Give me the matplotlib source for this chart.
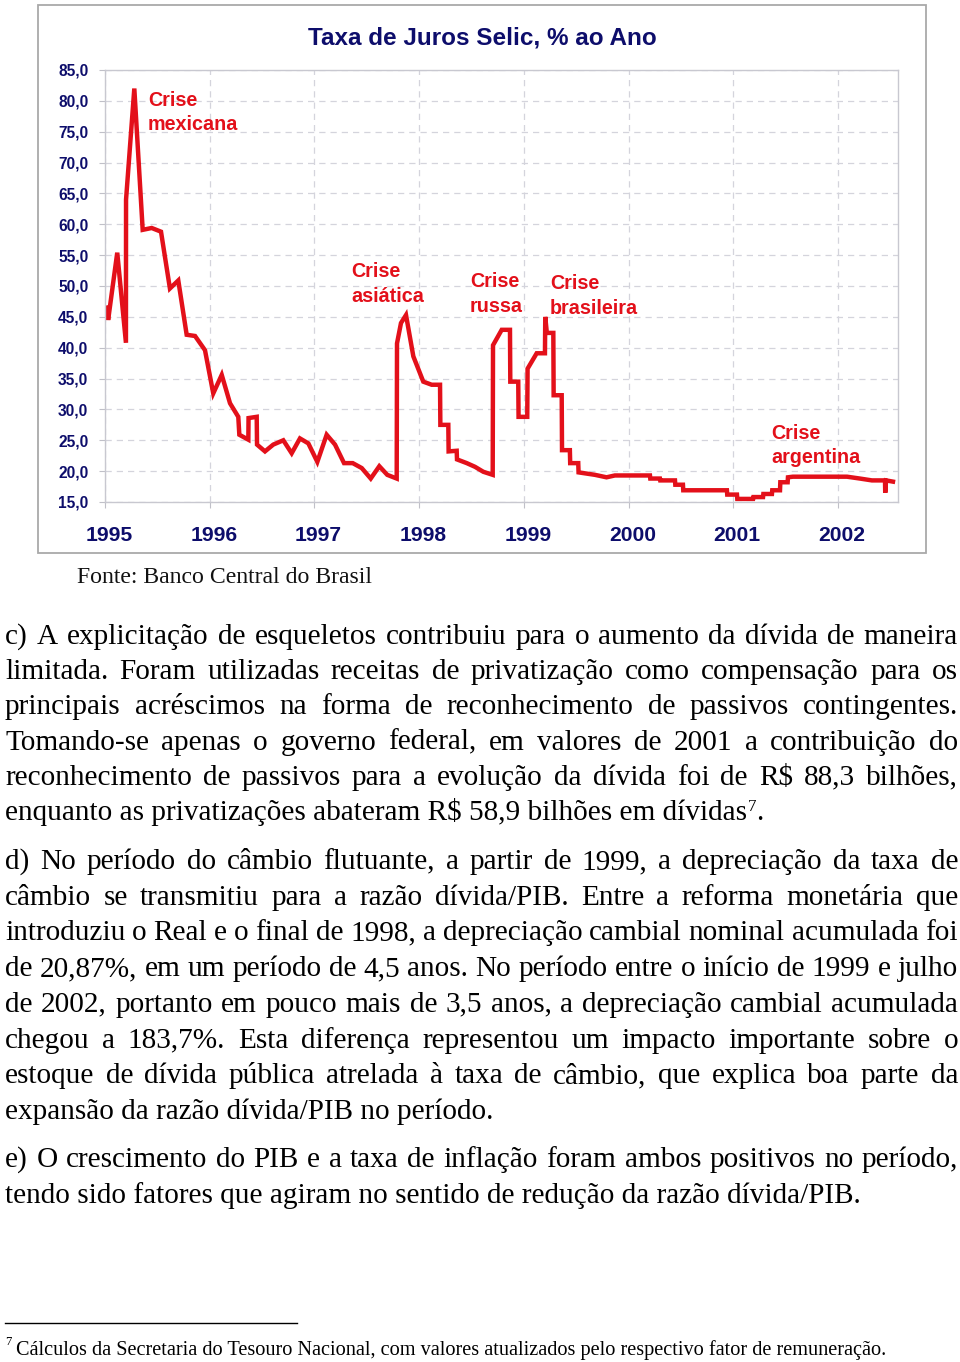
import matplotlib
matplotlib.use('Agg')
import matplotlib.pyplot as plt
from matplotlib.transforms import ScaledTranslation
from matplotlib.patches import Rectangle
from matplotlib.lines import Line2D

W, H = 960, 1362

# ---------------- data ----------------
selic_t = [1995.02, 1995.03, 1995.117, 1995.20, 1995.201, 1995.28, 1995.36, 1995.446,
           1995.535, 1995.62, 1995.70, 1995.78, 1995.86, 1995.955, 1996.034, 1996.115,
           1996.194, 1996.273, 1996.283, 1996.369, 1996.371, 1996.449, 1996.452, 1996.528,
           1996.607, 1996.703, 1996.783, 1996.862, 1996.942, 1997.028, 1997.117, 1997.197,
           1997.283, 1997.366, 1997.452, 1997.538, 1997.62, 1997.696, 1997.786, 1997.789,
           1997.827, 1997.875, 1997.945, 1998.04, 1998.12, 1998.20, 1998.203, 1998.279,
           1998.282, 1998.359, 1998.362, 1998.455, 1998.534, 1998.613, 1998.703, 1998.706,
           1998.789, 1998.868, 1998.871, 1998.947, 1998.95, 1999.033, 1999.036, 1999.123,
           1999.202, 1999.205, 1999.22, 1999.282, 1999.285, 1999.362, 1999.365, 1999.44,
           1999.443, 1999.52, 1999.523, 1999.68, 1999.79, 1999.87, 2000.205, 2000.208,
           2000.30, 2000.303, 2000.444, 2000.447, 2000.52, 2000.523, 2000.94, 2000.943,
           2001.036, 2001.039, 2001.19, 2001.193, 2001.285, 2001.288, 2001.37, 2001.373,
           2001.447, 2001.45, 2001.52, 2001.523, 2001.57, 2002.087, 2002.21, 2002.325,
           2002.45, 2002.452, 2002.46, 2002.526]
selic_v = [46.5, 44.5, 55.4, 40.8, 64.0, 82.0, 59.1, 59.4,
           58.8, 49.6, 50.9, 42.1, 41.9, 39.6, 32.6, 35.6,
           31.0, 28.8, 25.9, 25.1, 28.6, 28.8, 24.3, 23.2,
           24.3, 25.0, 22.9, 25.3, 24.5, 21.5, 25.9, 24.3,
           21.3, 21.3, 20.5, 18.8, 20.8, 19.4, 18.8, 40.7,
           44.0, 45.3, 38.6, 34.5, 34.0, 34.0, 27.5, 27.5,
           23.2, 23.3, 21.9, 21.3, 20.7, 19.9, 19.4, 40.4,
           42.9, 42.9, 34.5, 34.5, 28.8, 28.8, 36.6, 39.1,
           39.1, 45.0, 42.4, 42.4, 32.3, 32.3, 23.4, 23.4,
           21.3, 21.3, 19.8, 19.4, 19.0, 19.3, 19.3, 18.8,
           18.8, 18.5, 18.5, 17.8, 17.8, 16.9, 16.9, 16.2,
           16.2, 15.5, 15.5, 15.8, 15.8, 16.3, 16.3, 16.9,
           16.9, 18.2, 18.2, 19.0, 19.1, 19.1, 18.8, 18.5,
           18.5, 16.5, 18.5, 18.3]

year_ticks = [1995, 1996, 1997, 1998, 1999, 2000, 2001, 2002]
year_labels = ['1995', '1996', '1997', '1998', '1999', '2000', '2001', '2002']
y_ticks = [15, 20, 25, 30, 35, 40, 45, 50, 55, 60, 65, 70, 75, 80, 85]
y_labels = ['15,0', '20,0', '25,0', '30,0', '35,0', '40,0', '45,0', '50,0',
            '55,0', '60,0', '65,0', '70,0', '75,0', '80,0', '85,0']
crise_labels = ['Crise\nmexicana', 'Crise\nasiática', 'Crise\nrussa',
                'Crise\nbrasileira', 'Crise\nargentina']
chart_title = 'Taxa de Juros Selic, % ao Ano'
source_text = 'Fonte: Banco Central do Brasil'

para_c = ["c) A explicitação de esqueletos contribuiu para o aumento da dívida de maneira",
          "limitada. Foram utilizadas receitas de privatização como compensação para os",
          "principais acréscimos na forma de reconhecimento de passivos contingentes.",
          "Tomando-se apenas o governo federal, em valores de 2001 a contribuição do",
          "reconhecimento de passivos para a evolução da dívida foi de R$ 88,3 bilhões,",
          "enquanto as privatizações abateram R$ 58,9 bilhões em dívidas"]
para_d = ["d) No período do câmbio flutuante, a partir de 1999, a depreciação da taxa de",
          "câmbio se transmitiu para a razão dívida/PIB. Entre a reforma monetária que",
          "introduziu o Real e o final de 1998, a depreciação cambial nominal acumulada foi",
          "de 20,87%, em um período de 4,5 anos. No período entre o início de 1999 e julho",
          "de 2002, portanto em pouco mais de 3,5 anos, a depreciação cambial acumulada",
          "chegou a 183,7%. Esta diferença representou um impacto importante sobre o",
          "estoque de dívida pública atrelada à taxa de câmbio, que explica boa parte da",
          "expansão da razão dívida/PIB no período."]
para_e = ["e) O crescimento do PIB e a taxa de inflação foram ambos positivos no período,",
          "tendo sido fatores que agiram no sentido de redução da razão dívida/PIB."]
footnote_text = "Cálculos da Secretaria do Tesouro Nacional, com valores atualizados pelo respectivo fator de remuneração."

# ---------------- figure ----------------
NAVY = '#0d0d6b'
RED = '#e3101a'
fig = plt.figure(figsize=(W / 100, H / 100), dpi=100)
fig.patch.set_facecolor('white')
renderer = fig.canvas.get_renderer()


def fx(x):
    return x / W


def fy(y):
    return 1 - y / H


def measure(s, **kw):
    t = fig.text(0, 0, s, **kw)
    w = t.get_window_extent(renderer=renderer).width
    t.remove()
    return w


# outer chart box
fig.add_artist(Rectangle((fx(38), fy(553)), (926 - 38) / W, (553 - 5) / H,
                         transform=fig.transFigure, fill=False,
                         edgecolor='#a9a9a9', lw=1.3))

ax_l, ax_r, ax_t, ax_b = 105, 898, 70, 502
ax = fig.add_axes([fx(ax_l), fy(ax_b), (ax_r - ax_l) / W, (ax_b - ax_t) / H])
ax.plot(selic_t, selic_v, color=RED, lw=3.2, solid_joinstyle='miter')
ax.set_xlim(1995.0, 1995.0 + (ax_r - ax_l) / 104.7)
ax.set_ylim(15, 85)
ax.set_xticks(year_ticks)
ax.set_xticklabels(year_labels, fontsize=15.2, fontweight='bold', color=NAVY,
                   family='Liberation Sans')
ax.set_yticks(y_ticks)
ax.set_yticklabels(y_labels, fontsize=11.2, fontweight='bold', color=NAVY,
                   family='Liberation Sans')
ax.tick_params(axis='x', length=4, color='#c0c0c8', pad=13)
ax.tick_params(axis='y', length=4, color='#c0c0c8', pad=8)
for lab in ax.get_xticklabels():
    lab.set_transform(lab.get_transform() + ScaledTranslation(0.04, 0, fig.dpi_scale_trans))
ax.grid(True, color='#d4d4dc', lw=0.9, linestyle=(0, (5, 4)))
ax.set_axisbelow(True)
for s in ax.spines.values():
    s.set_color('#c8c8d0')
    s.set_linewidth(1.0)

# title
fig.text(fx(482), fy(45), chart_title, ha='center', va='baseline',
         fontsize=17.5, fontweight='bold', color=NAVY, family='Liberation Sans')

# crisis annotations (baseline of first line, pixel positions)
crise_xy = [(148, 106), (351, 277), (470, 287), (550, 289), (771, 439)]
for lab, (x, y) in zip(crise_labels, crise_xy):
    l1, l2 = lab.split('\n')
    fig.text(fx(x), fy(y), l1, ha='left', va='baseline', fontsize=14.2,
             fontweight='bold', color=RED, family='Liberation Sans')
    fig.text(fx(x), fy(y + 24.5), l2, ha='left', va='baseline', fontsize=14.2,
             fontweight='bold', color=RED, family='Liberation Sans')

# source
src_size = 15 * 297 / measure(source_text, family='Liberation Serif', size=15)
fig.text(fx(77), fy(583), source_text, ha='left', va='baseline',
         family='Liberation Serif', size=src_size, color='#111111')

# ---------------- body text ----------------
body_font = 'Liberation Serif'
body_size = 20 * 741 / measure(para_c[-1], family=body_font, size=20)
LEFT, RIGHT = 5, 958


def draw_line(line, y, justify):
    words = line.split(' ')
    if not justify:
        fig.text(fx(LEFT), fy(y), line, ha='left', va='baseline',
                 family=body_font, size=body_size, color='black')
        return LEFT + measure(line, family=body_font, size=body_size)
    widths = [measure(w, family=body_font, size=body_size) for w in words]
    gap = (RIGHT - LEFT - sum(widths)) / (len(words) - 1)
    x = LEFT
    for w, wd in zip(words, widths):
        fig.text(fx(x), fy(y), w, ha='left', va='baseline',
                 family=body_font, size=body_size, color='black')
        x += wd + gap
    return RIGHT


def draw_para(lines, y0, dy):
    end = None
    for i, line in enumerate(lines):
        end = draw_line(line, y0 + i * dy, i < len(lines) - 1)
    return end


c0, cdy = 644, 35.2
end_c = draw_para(para_c, c0, cdy)
y_last_c = c0 + 5 * cdy
fig.text(fx(end_c + 1), fy(y_last_c - 9), '7', ha='left', va='baseline',
         family=body_font, size=body_size * 0.58)
fig.text(fx(end_c + 1 + measure('7', family=body_font, size=body_size * 0.58)),
         fy(y_last_c), '.', ha='left', va='baseline', family=body_font, size=body_size)
draw_para(para_d, 869, 35.7)
draw_para(para_e, 1167, 35.7)

# footnote
fig.add_artist(Line2D([fx(5), fx(297)], [fy(1323), fy(1323)],
                      transform=fig.transFigure, color='black', lw=1.0))
fn_size = 15 * 874 / measure(footnote_text, family=body_font, size=15)
fig.text(fx(5), fy(1345), '7', ha='left', va='baseline', family=body_font,
         size=fn_size * 0.62)
fig.text(fx(16), fy(1355), footnote_text, ha='left', va='baseline',
         family=body_font, size=fn_size)

fig.savefig('out.png', dpi=100, facecolor='white')
